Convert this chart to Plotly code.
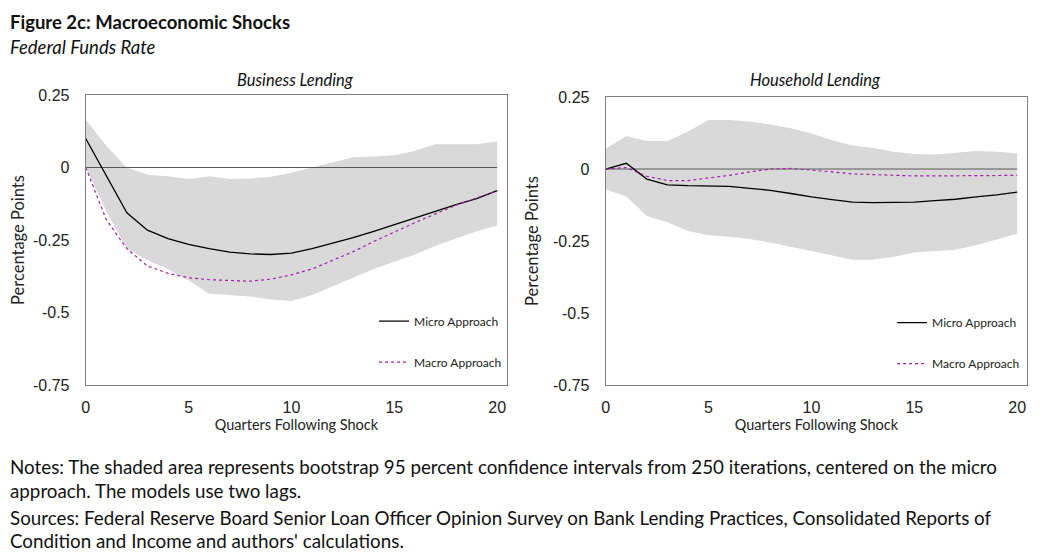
import plotly.graph_objects as go

quarters = list(range(21))
bus_micro = [0.10,-0.03,-0.156,-0.216,-0.245,-0.265,-0.28,-0.292,-0.298,-0.30,-0.295,-0.28,-0.262,-0.242,-0.22,-0.197,-0.173,-0.15,-0.128,-0.107,-0.08]
bus_macro = [0.0,-0.18,-0.28,-0.34,-0.365,-0.38,-0.387,-0.39,-0.392,-0.385,-0.37,-0.35,-0.32,-0.29,-0.255,-0.222,-0.19,-0.16,-0.13,-0.105,-0.08]
bus_upper = [0.165,0.075,0.0,-0.025,-0.03,-0.04,-0.03,-0.04,-0.038,-0.032,-0.018,0.0,0.018,0.035,0.038,0.042,0.058,0.08,0.08,0.08,0.09]
bus_lower = [0.0,-0.15,-0.28,-0.32,-0.35,-0.39,-0.435,-0.44,-0.445,-0.455,-0.46,-0.44,-0.41,-0.38,-0.35,-0.325,-0.3,-0.27,-0.245,-0.22,-0.2]
hh_micro = [0.0,0.02,-0.035,-0.055,-0.058,-0.058,-0.06,-0.067,-0.074,-0.085,-0.097,-0.106,-0.115,-0.117,-0.117,-0.115,-0.11,-0.105,-0.097,-0.09,-0.08]
hh_macro = [0.0,0.005,-0.025,-0.04,-0.04,-0.032,-0.022,-0.01,0.0,0.002,-0.003,-0.01,-0.017,-0.02,-0.022,-0.024,-0.024,-0.024,-0.024,-0.023,-0.022]
hh_upper = [0.07,0.115,0.097,0.097,0.13,0.17,0.17,0.165,0.155,0.142,0.123,0.1,0.082,0.073,0.06,0.052,0.05,0.057,0.063,0.06,0.055]
hh_lower = [-0.07,-0.095,-0.163,-0.185,-0.215,-0.23,-0.235,-0.243,-0.255,-0.27,-0.285,-0.3,-0.315,-0.315,-0.305,-0.29,-0.285,-0.28,-0.265,-0.245,-0.225]
y_ticks = [0.25, 0, -0.25, -0.5, -0.75]
y_tick_labels = ["0.25", "0", "-0.25", "-0.5", "-0.75"]
x_ticks = [0, 5, 10, 15, 20]

TXT = "Lato"
TICK = "Liberation Sans"
W, H = 1036, 547
fig = go.Figure()

panels = [
    (bus_micro, bus_macro, bus_upper, bus_lower, "x", "y", "legend"),
    (hh_micro, hh_macro, hh_upper, hh_lower, "x2", "y2", "legend2"),
]
for micro, macro, up, lo, xa, ya, lg in panels:
    fig.add_trace(go.Scatter(x=quarters, y=up, mode="lines", line=dict(width=0), xaxis=xa, yaxis=ya,
                             showlegend=False, hoverinfo="skip"))
    fig.add_trace(go.Scatter(x=quarters, y=lo, mode="lines", line=dict(width=0), fill="tonexty",
                             fillcolor="#d9d9d9", xaxis=xa, yaxis=ya, showlegend=False, hoverinfo="skip"))
    fig.add_trace(go.Scatter(x=[0, 20], y=[0, 0], mode="lines", line=dict(color="#595959", width=1),
                             xaxis=xa, yaxis=ya, showlegend=False, hoverinfo="skip"))
    fig.add_trace(go.Scatter(x=quarters, y=micro, mode="lines", name="Micro Approach",
                             line=dict(color="black", width=1.3), xaxis=xa, yaxis=ya,
                             legend=lg, legendgroup="a"))
    fig.add_trace(go.Scatter(x=quarters, y=macro, mode="lines", name="Macro Approach",
                             line=dict(color="#a020a0", width=1.2, dash="dot"), xaxis=xa, yaxis=ya,
                             legend=lg, legendgroup="b"))

ax_common = dict(showgrid=False, zeroline=False, showline=True, linecolor="#7f7f7f", linewidth=1,
                 mirror=True, ticks="", tickfont=dict(family=TICK, size=16, color="#222"))
xax = dict(ax_common, range=[0, 20.48], tickvals=x_ticks, ticklabelstandoff=8,
           title=dict(text="Quarters Following Shock", font=dict(family=TXT, size=14.5, color="#222"), standoff=4))
yax = dict(ax_common, range=[-0.75, 0.25], tickvals=y_ticks, ticktext=y_tick_labels, ticklabelstandoff=12,
           title=dict(text="Percentage Points", font=dict(family=TXT, size=16.5, color="#222"), standoff=10))

legend_common = dict(bgcolor="rgba(0,0,0,0)", font=dict(family=TXT, size=12, color="#222"),
                     tracegroupgap=22, itemwidth=30, xanchor="right", yanchor="top")

def px(p): return (p - 8) / W
def py(p): return (377 - (p - 8)) / 290

fig.update_layout(
    width=W, height=H, paper_bgcolor="white", plot_bgcolor="white",
    margin=dict(l=0, r=0, t=87, b=170),
    xaxis=dict(xax, domain=[px(82), px(505)], anchor="y"),
    yaxis=dict(yax, domain=[0, 1], anchor="x"),
    xaxis2=dict(xax, domain=[px(604), px(1027)], anchor="y2"),
    yaxis2=dict(yax, domain=[0, 0.993], anchor="x2"),
    legend=dict(legend_common, x=px(505), y=0.27),
    legend2=dict(legend_common, x=px(1025), y=0.265),
)

def ann(text, x, y, size=16, xanchor="left"):
    fig.add_annotation(text=text, x=x, y=y, xref="paper", yref="paper", xanchor=xanchor, yanchor="middle",
                       showarrow=False, font=dict(family=TXT, size=size, color="#111"), align="left")

ann("<b>Figure 2c: Macroeconomic Shocks</b>", px(4), py(22), size=18.5)
ann("<i>Federal Funds Rate</i>", px(4), py(47), size=18.5)
ann("<i>Business Lending</i>", px(293), py(80), size=16.5, xanchor="center")
ann("<i>Household Lending</i>", px(815), py(80), size=16.5, xanchor="center")
ann("Notes: The shaded area represents bootstrap 95 percent confidence intervals from 250 iterations, centered on the micro", px(4), py(467), size=18.8)
ann("approach. The models use two lags.", px(4), py(490), size=18.8)
ann("Sources: Federal Reserve Board Senior Loan Officer Opinion Survey on Bank Lending Practices, Consolidated Reports of", px(4), py(517), size=18.8)
ann("Condition and Income and authors' calculations.", px(4), py(540), size=18.8)

fig.write_html("out.html")
